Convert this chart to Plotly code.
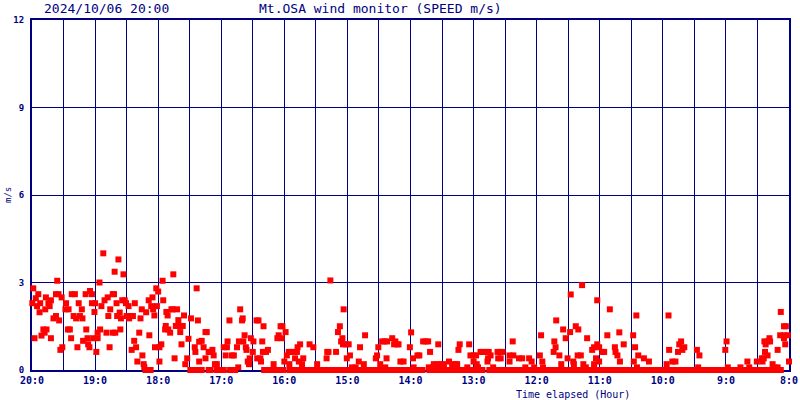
import plotly.graph_objects as go

# ---- tick labels ----
hour_labels = ["20:0", "19:0", "18:0", "17:0", "16:0", "15:0", "14:0",
               "13:0", "12:0", "11:0", "10:0", "9:0", "8:0"]
speed_ticks = [0, 3, 6, 9, 12]

# ---- readings (elapsed hours from 20:00, speed m/s) ----
t_a = [0.02, 0.005, 0.04, 0.06, 0.10, 0.08, 0.13, 0.12, 0.15, 0.18, 0.20, 0.23, 0.22, 0.21, 0.26, 0.28,
       0.30, 0.30, 0.34, 0.38, 0.40, 0.38, 0.42, 0.43, 0.47, 0.45, 0.48, 0.54, 0.53, 0.58, 0.57, 0.60,
       0.62, 0.63, 0.68, 0.66, 0.70, 0.72, 0.74, 0.76, 0.79, 0.80, 0.81, 0.85, 0.86, 0.88, 0.89, 0.91,
       0.92, 0.95, 0.95, 0.99, 1.00, 0.97, 1.04, 1.02, 1.07, 1.04, 1.08, 1.10, 1.13, 1.15, 1.18, 1.20,
       1.21, 1.23, 1.24, 1.28, 1.30, 1.28, 1.32, 1.31, 1.34, 1.37, 1.35, 1.39, 1.40, 1.41, 1.43, 1.45,
       1.47, 1.49, 1.50, 1.53, 1.54, 1.57, 1.58, 1.60, 1.62, 1.63, 1.65, 1.67, 1.70, 1.72, 1.74, 1.75,
       1.77, 1.78, 1.81, 1.85, 1.86, 1.89, 1.91, 1.92, 1.94, 1.95, 1.98, 1.97, 2.00, 2.02, 2.05, 2.07,
       2.02, 2.08, 2.11, 2.12, 2.13, 2.15, 2.16, 2.19, 2.21, 2.23, 2.24, 2.26, 2.28, 2.30, 2.32, 2.34,
       2.35, 2.37, 2.39, 2.41, 2.43, 2.46, 2.48, 2.52, 2.58, 2.59, 2.61, 2.63, 2.65, 2.65]
v_a = [2.80, 2.29, 1.09, 2.46, 2.60, 2.19, 2.29, 1.98, 1.18, 1.39, 1.28, 1.39, 2.49, 2.08, 2.29, 2.19,
       2.39, 1.09, 1.77, 1.85, 3.06, 2.60, 2.60, 1.70, 2.49, 0.69, 0.78, 2.29, 2.08, 2.08, 1.39, 1.39,
       1.09, 2.60, 2.60, 1.85, 1.77, 0.78, 2.29, 1.85, 2.08, 1.77, 1.00, 2.60, 1.39, 1.09, 0.88, 0.78,
       2.71, 2.60, 2.29, 1.99, 2.29, 1.09, 1.09, 0.62, 3.00, 1.28, 1.39, 2.19, 4.00, 2.39, 1.28, 2.49,
       1.85, 0.78, 2.08, 2.60, 2.60, 1.28, 1.28, 3.37, 2.29, 3.79, 1.85, 1.97, 1.39, 1.77, 2.39, 3.28,
       2.39, 2.29, 1.85, 2.19, 1.77, 1.85, 0.69, 1.85, 1.00, 2.29, 0.78, 0.29, 1.28, 1.77, 2.08, 0.50,
       0.20, 0.10, 1.98, 2.39, 1.19, 2.19, 2.49, 2.08, 1.87, 0.78, 2.19, 2.80, 2.69, 0.29, 0.88, 3.06,
       0.78, 2.39, 1.39, 1.51, 1.99, 1.87, 1.39, 1.28, 2.08, 2.08, 3.28, 0.40, 1.51, 2.08, 1.71, 1.51,
       1.30, 0.88, 1.51, 1.87, 0.20, 0.40, 1.07, 1.77, 0.78, 0.62, 2.80, 1.70, 0.97, 0.29]

t_b = [2.69, 2.72, 2.75, 2.77, 2.75, 2.80, 2.83, 2.86, 2.88, 2.90, 2.93, 3.04, 3.09, 3.07, 3.10, 3.13,
       3.17, 3.20, 3.25, 3.27, 3.28, 3.30, 3.33, 3.34, 3.35, 3.37, 3.39, 3.40, 3.42, 3.44, 3.45, 3.47,
       3.50, 3.51, 3.56, 3.59, 3.57, 3.62, 3.63, 3.65, 3.67, 3.66, 3.71, 3.74, 3.83, 3.89, 3.91, 3.94,
       3.97, 3.96, 4.02, 4.00, 4.04, 4.07, 4.10, 4.15, 4.20, 4.08, 4.17, 4.21, 4.23, 4.25, 4.30, 4.28,
       4.40, 4.46, 4.52, 4.68, 4.70, 4.67, 4.73, 4.82, 4.85, 4.88, 4.90, 4.92, 4.93, 4.94, 4.98, 5.02,
       4.99, 5.04, 5.07, 5.13, 5.18, 5.20, 5.26, 5.28, 5.45, 5.47, 5.49, 5.52, 5.55, 5.59, 5.63, 5.62,
       5.60]
v_b = [1.00, 0.78, 1.30, 1.30, 0.40, 0.62, 0.62, 0.69, 0.50, 0.20, 0.20, 0.78, 0.78, 0.50, 0.98, 1.70,
       0.50, 0.50, 0.78, 0.09, 0.98, 2.08, 1.70, 1.77, 0.98, 1.19, 0.78, 0.69, 0.29, 0.20, 0.40, 1.09,
       0.62, 0.98, 1.70, 1.70, 0.40, 0.40, 0.29, 0.98, 1.50, 0.62, 0.62, 0.69, 0.20, 1.09, 1.19, 1.50,
       1.50, 1.09, 1.30, 0.29, 0.50, 0.62, 0.62, 0.62, 0.62, 0.20, 0.40, 0.78, 0.29, 0.88, 0.40, 0.20,
       0.88, 0.78, 0.20, 0.62, 0.62, 0.40, 3.07, 0.62, 1.30, 1.50, 0.98, 1.09, 0.88, 2.08, 0.88, 0.88,
       0.40, 0.50, 0.09, 0.09, 0.29, 0.78, 0.20, 1.19, 0.40, 0.50, 0.78, 0.20, 0.98, 0.98, 0.98, 0.40,
       0.09]

t_c = [5.71, 5.76, 5.74, 5.79, 5.81, 5.84, 5.89, 5.99, 6.01, 6.04, 6.05, 6.11, 6.14, 6.20, 6.24, 6.28,
       6.31, 6.29, 6.35, 6.37, 6.42, 6.48, 6.52, 6.44, 6.53, 6.61, 6.66, 6.71, 6.74, 6.76, 6.78, 6.90,
       6.93, 6.95, 7.00, 7.04, 7.00, 7.05, 7.07, 7.11, 7.15, 7.19, 7.24, 7.23, 7.27, 7.22, 7.31, 7.38,
       7.42, 7.46, 7.39, 7.43, 7.57, 7.63, 7.57, 7.62, 7.72, 7.77, 7.82, 7.88, 7.92, 7.96, 8.05, 8.07,
       8.09, 8.10, 8.27, 8.28, 8.30, 8.31, 8.36, 8.39, 8.42, 8.46, 8.49, 8.53, 8.54, 8.58, 8.59, 8.62,
       8.66, 8.65, 8.70, 8.72, 8.74, 8.80, 8.78]
v_c = [1.09, 0.98, 0.88, 0.88, 0.88, 0.29, 0.29, 0.78, 1.29, 0.40, 0.09, 0.50, 0.50, 0.98, 0.98, 0.98,
       0.62, 0.09, 0.09, 0.20, 0.20, 0.20, 0.20, 0.88, 0.09, 0.29, 0.20, 0.20, 0.20, 0.69, 0.88, 0.09,
       0.88, 0.50, 0.50, 0.50, 0.29, 0.20, 0.09, 0.62, 0.62, 0.62, 0.62, 0.40, 0.50, 0.29, 0.09, 0.62,
       0.62, 0.62, 0.40, 0.40, 0.50, 0.50, 0.29, 0.98, 0.40, 0.40, 0.09, 0.40, 0.29, 0.09, 0.50, 1.19,
       0.29, 0.09, 0.62, 0.98, 0.78, 1.70, 0.50, 0.20, 1.39, 1.09, 0.40, 1.30, 2.59, 0.29, 0.20, 1.50,
       1.39, 0.50, 0.50, 2.91, 0.20, 1.09, 0.09]

t_d = [8.88, 8.91, 8.94, 8.96, 8.96, 8.99, 8.91, 8.99, 9.04, 9.07, 9.12, 9.16, 9.24, 9.25, 9.28, 9.31,
       9.32, 9.38, 9.53, 9.56, 9.54, 9.58, 9.61, 9.59, 9.70, 9.78, 10.06, 10.09, 10.10, 10.15, 10.20,
       10.24, 10.26, 10.29, 10.31, 10.34, 10.54, 10.58, 10.56, 10.99, 11.01, 11.03, 11.23, 11.34, 11.37,
       11.49, 11.57, 11.60, 11.58, 11.61, 11.66, 11.63, 11.62, 11.66, 11.69, 11.70, 11.74, 11.77, 11.82,
       11.82, 11.87, 11.86, 11.92, 11.98, 11.92, 11.95, 11.92, 11.94, 12.00]
v_d = [0.69, 0.20, 0.40, 2.39, 0.88, 0.78, 0.78, 0.29, 0.62, 0.62, 1.19, 2.08, 0.78, 0.62, 0.50, 1.29,
       0.29, 0.88, 1.19, 0.78, 0.29, 1.87, 0.50, 0.09, 0.40, 0.29, 0.20, 1.87, 0.69, 0.29, 0.29,
       0.62, 0.88, 0.98, 0.69, 0.78, 0.69, 0.50, 0.09, 0.69, 0.98, 0.09, 0.09, 0.29, 0.09,
       0.29, 0.40, 0.40, 0.29, 0.98, 0.98, 0.88, 0.62, 0.50, 1.09, 0.98, 0.20, 0.09, 0.09,
       0.69, 1.99, 1.19, 1.19, 1.19, 1.50, 1.50, 1.09, 0.88, 0.29]

# calm readings (0 m/s)
t_calm = [1.80, 1.88, 2.51, 2.56, 2.60, 2.69, 2.80, 2.83, 2.93, 2.97, 3.01, 3.04, 3.14, 3.18, 3.22,
          3.68, 3.74, 3.80, 3.86, 3.92, 3.98, 4.08, 4.13, 4.17,
          4.26, 4.32, 4.38, 4.44, 4.50, 4.56, 4.62, 4.68, 4.74, 4.80, 4.86, 4.92,
          4.98, 5.04, 5.10, 5.16, 5.22, 5.28, 5.34, 5.40, 5.44,
          5.53, 5.59, 5.65, 5.71, 5.77, 5.83, 5.89, 5.95, 6.01, 6.07, 6.13, 6.19,
          6.30, 6.36, 6.42, 6.48, 6.54, 6.60, 6.66, 6.72, 6.78, 6.84, 6.90, 6.96, 7.02, 7.08, 7.14,
          7.25, 7.31, 7.37, 7.43, 7.49, 7.55, 7.61, 7.67, 7.73, 7.79, 7.85, 7.91, 7.97, 8.03, 8.09,
          8.15, 8.21, 8.27, 8.33, 8.39, 8.45, 8.51, 8.57, 8.63, 8.69, 8.75, 8.81, 8.87, 8.94,
          9.01, 9.07, 9.13, 9.19, 9.25, 9.31, 9.37, 9.43, 9.49, 9.53,
          9.60, 9.66, 9.72, 9.78, 9.84, 9.90, 9.96, 10.02, 10.08, 10.14, 10.20, 10.24,
          10.33, 10.39, 10.45, 10.51, 10.57, 10.63, 10.69, 10.75, 10.81, 10.87, 10.93, 10.99,
          11.05, 11.11, 11.17, 11.23, 11.29, 11.35, 11.41, 11.47, 11.53, 11.57,
          11.64, 11.70, 11.76, 11.82, 11.87]
v_calm = [0.0] * len(t_calm)

times = t_a + t_b + t_c + t_d + t_calm
speeds = v_a + v_b + v_c + v_d + v_calm

NAVY = "#000080"
RED = "#FF0000"
MONO = "DejaVu Sans Mono, Liberation Mono, monospace"

fig = go.Figure()
fig.add_trace(go.Scatter(
    x=times, y=speeds, mode="markers",
    marker=dict(symbol="square", size=6, color=RED, line=dict(width=0)),
    cliponaxis=False, hoverinfo="x+y", showlegend=False,
))

grid_vals = [i * 0.5 for i in range(25)]
grid_text = []
for i in range(25):
    grid_text.append(hour_labels[i // 2] if i % 2 == 0 else "")

fig.update_xaxes(
    range=[0, 12], tickmode="array", tickvals=grid_vals, ticktext=grid_text,
    showgrid=True, gridcolor=NAVY, gridwidth=1, zeroline=False,
    showline=True, linecolor=NAVY, linewidth=2, mirror=True, layer="below traces",
    ticks="", tickfont=dict(family=MONO, size=10, color=NAVY, weight="bold"),
    fixedrange=True,
)
fig.update_yaxes(
    range=[0, 12], tickmode="array", tickvals=speed_ticks,
    ticktext=[str(v) for v in speed_ticks],
    showgrid=True, gridcolor=NAVY, gridwidth=1, zeroline=False,
    showline=True, linecolor=NAVY, linewidth=2, mirror=True, layer="below traces",
    ticks="", ticklabelstandoff=4,
    tickfont=dict(family=MONO, size=9, color=NAVY, weight="bold"),
    fixedrange=True,
)

W_PLOT = 757.0
H_PLOT = 350.0
annos = [
    dict(text="2024/10/06 20:00", x=(42 - 32) / W_PLOT, y=1 + 12 / H_PLOT),
    dict(text="Mt.OSA wind monitor (SPEED m/s)", x=(257 - 32) / W_PLOT, y=1 + 12 / H_PLOT),
]
for a in annos:
    fig.add_annotation(xref="paper", yref="paper", x=a["x"], y=a["y"], text=a["text"],
                       showarrow=False, xanchor="left", yanchor="middle",
                       font=dict(family=MONO, size=13, color=NAVY))
fig.add_annotation(xref="paper", yref="paper", x=(514 - 32) / W_PLOT, y=-(394 - 370) / H_PLOT,
                   text="Time elapsed (Hour)", showarrow=False, xanchor="left", yanchor="middle",
                   font=dict(family=MONO, size=10, color=NAVY))
fig.add_annotation(xref="paper", yref="paper", x=(8 - 32) / W_PLOT, y=(370 - 195) / H_PLOT,
                   text="m/s", textangle=-90, showarrow=False, xanchor="center", yanchor="middle",
                   font=dict(family=MONO, size=9, color=NAVY))

fig.update_layout(
    autosize=False, width=800, height=400,
    margin=dict(l=32, r=11, t=20, b=30, pad=0, autoexpand=False),
    paper_bgcolor="white", plot_bgcolor="white",
    showlegend=False,
)

fig.write_html("out.html", config={"displayModeBar": False, "responsive": False},
               post_script="document.body.style.margin='0';document.body.style.overflow='hidden';")
